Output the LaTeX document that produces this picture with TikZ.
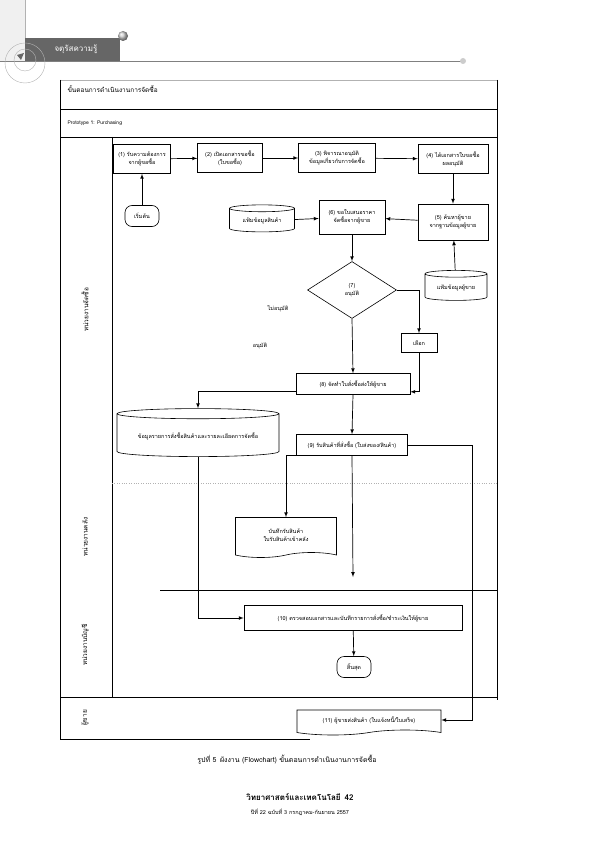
\documentclass[tikz,border=0pt]{standalone}
\usepackage{fontspec}
\newfontfamily\thaifont[Script=Thai]{Loma}
\usetikzlibrary{arrows,positioning,shapes.geometric,shapes.symbols,calc}

\begin{document}
\begin{tikzpicture}[x=1pt,y=-1pt,>=latex,
    font=\thaifont\fontsize{5.5}{8}\selectfont,
    box/.style={draw,line width=0.6pt,align=center,inner sep=1pt,minimum height=29pt},
    term/.style={draw,line width=0.6pt,rounded corners=7pt,minimum width=34pt,minimum height=21pt},
    store/.style={draw,line width=0.6pt,cylinder,shape border rotate=90,aspect=0.15,align=center},
    decide/.style={draw,line width=0.6pt,diamond,aspect=1.56,inner sep=0pt,minimum width=89pt,minimum height=57pt,align=center},
    doc/.style={draw,line width=0.6pt,tape,tape bend top=none,tape bend height=5pt,align=center},
    lane/.style={rotate=90,font=\thaifont\fontsize{6.5}{8}\selectfont},
    flow/.style={->,line width=0.7pt}]
  \useasboundingbox (0,0) rectangle (595,842);

  % page header
  \fill[gray!12] (0,0) rectangle (25,62);
  \draw[gray!60] (25,0) -- (25,62);
  \fill[black!60] (25,38) rectangle (120,61);
  \node[text=white,font=\thaifont\fontsize{8}{10}\selectfont] (head) at (76,49) {จตุรัสความรู้};
  \shade[ball color=gray!40] (123,36) circle (5);
  \draw[gray,line width=0.8pt] (0,61) -- (463,61);
  \fill[gray!40] (463,61) circle (3);
  \draw[gray!60] (25,63) circle (20);
  \draw[gray!60] (25,60) circle (11);
  \fill[black!60] (17,55) -- (24,53) -- (21,60) -- cycle;

  % frame
  \draw[gray!60] (60,80) -- (497,80);
  \draw[line width=0.8pt] (60,109) -- (497,109);
  \draw[line width=0.8pt] (60,137) -- (497,137);
  \draw[line width=0.6pt] (60,80) -- (60,739);
  \draw[line width=0.6pt] (497,80) -- (497,700);
  \draw[line width=0.6pt] (112,137) -- (112,697);
  \draw[gray!60,dotted] (112,483) -- (497,483);
  \draw[line width=0.6pt] (160,590) -- (497,590);
  \draw[line width=0.6pt] (60,697) -- (497,697);
  \draw[line width=0.6pt] (60,739) -- (310,739);
  \node[anchor=west,font=\thaifont\fontsize{6.5}{8}\selectfont] (title) at (64,89) {ขั้นตอนการดำเนินงานการจัดซื้อ};
  \node[anchor=west,font=\thaifont\fontsize{5}{6}\selectfont] (proto) at (64,123) {Prototype 1: Purchasing};

  % lanes
  \node[lane] (lbuy) at (85,310) {หน่วยงานจัดซื้อ};
  \node[lane] (lstock) at (85,537) {หน่วยงานคลัง};
  \node[lane] (lacc) at (85,645) {หน่วยงานบัญชี};
  \node[lane] (lvend) at (85,718) {ผู้ขาย};

  % purchasing lane
  \node[term] (start) at (142,216) {เริ่มต้น};
  \node[box,minimum width=57pt] (b1) at (142,159) {(1) รับความต้องการ\\จากผู้ขอซื้อ};
  \node[box,minimum width=65pt] (b2) at (230,158) {(2) เปิดเอกสารขอซื้อ\\(ใบขอซื้อ)};
  \node[box,minimum width=77pt] (b3) at (337,158) {(3) พิจารณาอนุมัติ\\ข้อมูลเกี่ยวกับการจัดซื้อ};
  \node[box,minimum width=70pt] (b4) at (453,159) {(4) ได้เอกสารใบขอซื้อ\\ผลอนุมัติ};
  \node[box,minimum width=70pt,minimum height=36pt] (b5) at (453,222) {(5) ค้นหาผู้ขาย\\จากฐานข้อมูลผู้ขาย};
  \node[box,minimum width=66pt,minimum height=34pt] (b6) at (352,217) {(6) ขอใบเสนอราคา\\จัดซื้อจากผู้ขาย};
  \node[store,minimum width=65pt,minimum height=27pt] (dbitem) at (262,221) {แฟ้มข้อมูลสินค้า};
  \node[store,minimum width=62pt,minimum height=30pt] (dbvendor) at (456,288) {แฟ้มข้อมูลผู้ขาย};
  \node[decide] (d7) at (352,290) {(7)\\อนุมัติ};
  \node (no) at (278,309) {ไม่อนุมัติ};
  \node (yes) at (260,346) {อนุมัติ};
  \node[box,minimum width=36pt,minimum height=19pt] (pick) at (419,343) {เลือก};
  \node[box,minimum width=114pt,minimum height=21pt] (b8) at (353,384) {(8) จัดทำใบสั่งซื้อส่งให้ผู้ขาย};
  \node[store,aspect=0.08,minimum width=162pt,minimum height=48pt] (dborder) at (198,436) {ข้อมูลรายการสั่งซื้อสินค้าและรายละเอียดการจัดซื้อ};
  \node[box,minimum width=111pt,minimum height=21pt] (b9) at (352,445) {(9) รับสินค้าที่สั่งซื้อ (ใบส่งของ/สินค้า)};

  % stock lane
  \node[doc,minimum width=101pt,minimum height=40pt] (slip) at (286,535) {บันทึกรับสินค้า\\ใบรับสินค้าเข้าคลัง};
  \coordinate (b9end) at (353,577);

  % accounting lane
  \node[box,minimum width=218pt,minimum height=25pt] (b10) at (353,618) {(10) ตรวจสอบเอกสารและบันทึกรายการสั่งซื้อ/ชำระเงินให้ผู้ขาย};
  \node[term] (stop) at (354,667) {สิ้นสุด};

  % vendor lane
  \node[doc,minimum width=144pt,minimum height=25pt] (b11) at (369,720) {(11) ผู้ขายส่งสินค้า (ใบแจ้งหนี้/ใบเสร็จ)};
  \coordinate (turn) at (472,444);

  % connectors
  \draw[flow] (start) -- (b1);
  \draw[flow] (b1) -- (b2);
  \draw[flow] (b2) -- (b3);
  \draw[flow] (b3) -- (b4);
  \draw[flow] (b4) -- (b5);
  \draw[flow] (b5) -- (b6);
  \draw[flow] (dbitem) -- (b6);
  \draw[flow] (dbvendor) -- (b5);
  \draw[flow] (b6) -- (d7);
  \draw[flow] (d7.east) -| (pick.north);
  \draw[flow] (d7.south) -- (b8.north);
  \draw[flow] (pick.south) |- ($(b8.south east)+(0,-3)$);
  \draw[flow] ($(b8.south west)+(0,-3)$) -| (dborder.north);
  \draw[flow] (b8.south) -- (b9.north);
  \draw[flow] (b9.south west) -| (slip.north);
  \draw[flow] (b9.south) -- (b9end);
  \draw[flow] (dborder.south) |- (b10.west);
  \draw[flow] (b10) -- (stop);
  \draw[flow] (b9.east) -- (b9.east -| turn) |- (b11.east);

  % caption
  \node[font=\thaifont\fontsize{7}{9}\selectfont] (cap) at (287,760) {รูปที่ 5\enspace ผังงาน (Flowchart) ขั้นตอนการดำเนินงานการจัดซื้อ};
  \node[font=\thaifont\bfseries\fontsize{8}{10}\selectfont] (journal) at (300,797) {วิทยาศาสตร์และเทคโนโลยี\enspace 42};
  \node[font=\thaifont\fontsize{5.5}{7}\selectfont] (issue) at (300,812) {ปีที่ 22 ฉบับที่ 3 กรกฎาคม-กันยายน 2557};
\end{tikzpicture}
\end{document}
